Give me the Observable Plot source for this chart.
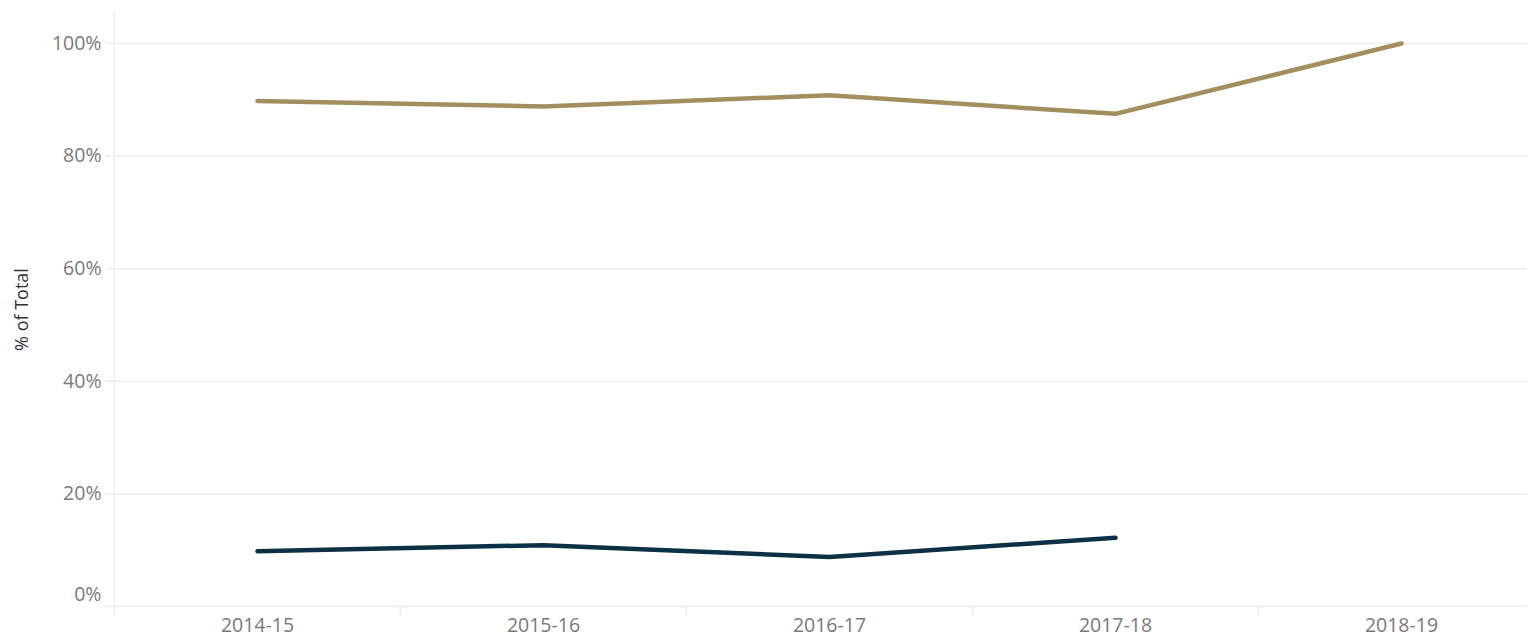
<!DOCTYPE html>
<html>
<head>
<meta charset="utf-8">
<script src="https://cdn.jsdelivr.net/npm/d3@7"></script>
<script src="https://cdn.jsdelivr.net/npm/@observablehq/plot@0.6"></script>
<style>
  html, body { margin: 0; padding: 0; background: #fff; }
  #chart svg { display: block; }
</style>
</head>
<body>
<div id="chart"></div>
<script>
const years = ["2014-15", "2015-16", "2016-17", "2017-18", "2018-19"];
const seriesNames = ["Series 1", "Series 2"];
const series1Values = [89.8, 88.8, 90.8, 87.5, 100];
const series2Values = [9.8, 10.9, 8.8, 12.2, null];
const yTicks = [0, 20, 40, 60, 80, 100];
const colors = ["#a38f5e", "#0c3046"];

const data = [];
years.forEach((yr, i) => {
  data.push({i, year: yr, series: seriesNames[0], value: series1Values[i]});
  if (series2Values[i] != null) data.push({i, year: yr, series: seriesNames[1], value: series2Values[i]});
});
const boundaries = years.map((_, i) => i + 0.5).slice(0, -1);

const font = "'Open Sans', 'DejaVu Sans', sans-serif";

const chart = Plot.plot({
  width: 1527,
  height: 638,
  marginLeft: 114,
  marginRight: 0,
  marginTop: 12,
  marginBottom: 32,
  style: {fontFamily: font, fontSize: "19px", background: "#fff"},
  x: {type: "linear", domain: [-0.5, 4.5], range: [114, 1544], axis: null},
  y: {domain: [0, 105.5], axis: null},
  color: {domain: seriesNames, range: colors},
  marks: [
    Plot.gridY(yTicks.filter(d => d > 0), {x1: -0.53, x2: 4.5, stroke: "#ededed", strokeOpacity: 1, strokeWidth: 1.5}),
    Plot.ruleY([0], {x1: -0.53, x2: 4.5, stroke: "#ebebeb", strokeWidth: 1.5}),
    Plot.ruleX([-0.5], {y1: -1.8, y2: 105.5, stroke: "#ededed", strokeWidth: 1.5}),
    Plot.ruleX(boundaries, {y1: -1.8, y2: 0, stroke: "#ebebeb", strokeWidth: 1.5}),
    Plot.axisY(yTicks.filter(d => d > 0), {tickSize: 0, tickPadding: 13, tickFormat: d => d + "%", fill: "#7a7a7a", fontSize: 19.5, label: null}),
    Plot.axisY([0], {tickSize: 0, tickPadding: 13, tickFormat: d => d + "%", fill: "#7a7a7a", fontSize: 19.5, dy: -12, label: null}),
    Plot.axisX(years.map((_, i) => i), {tickSize: 0, tickPadding: 12, tickFormat: i => years[i], fill: "#7a7a7a", fontSize: 19.5, label: null}),
    Plot.text(["% of Total"], {frameAnchor: "left", textAnchor: "middle", dx: 22 - 114, rotate: -90, fill: "#333", fontSize: 18}),
    Plot.line(data, {x: "i", y: "value", z: "series", stroke: "series", strokeWidth: 4.5, strokeLinecap: "round", strokeLinejoin: "round"})
  ]
});
document.getElementById("chart").appendChild(chart);
</script>
</body>
</html>
